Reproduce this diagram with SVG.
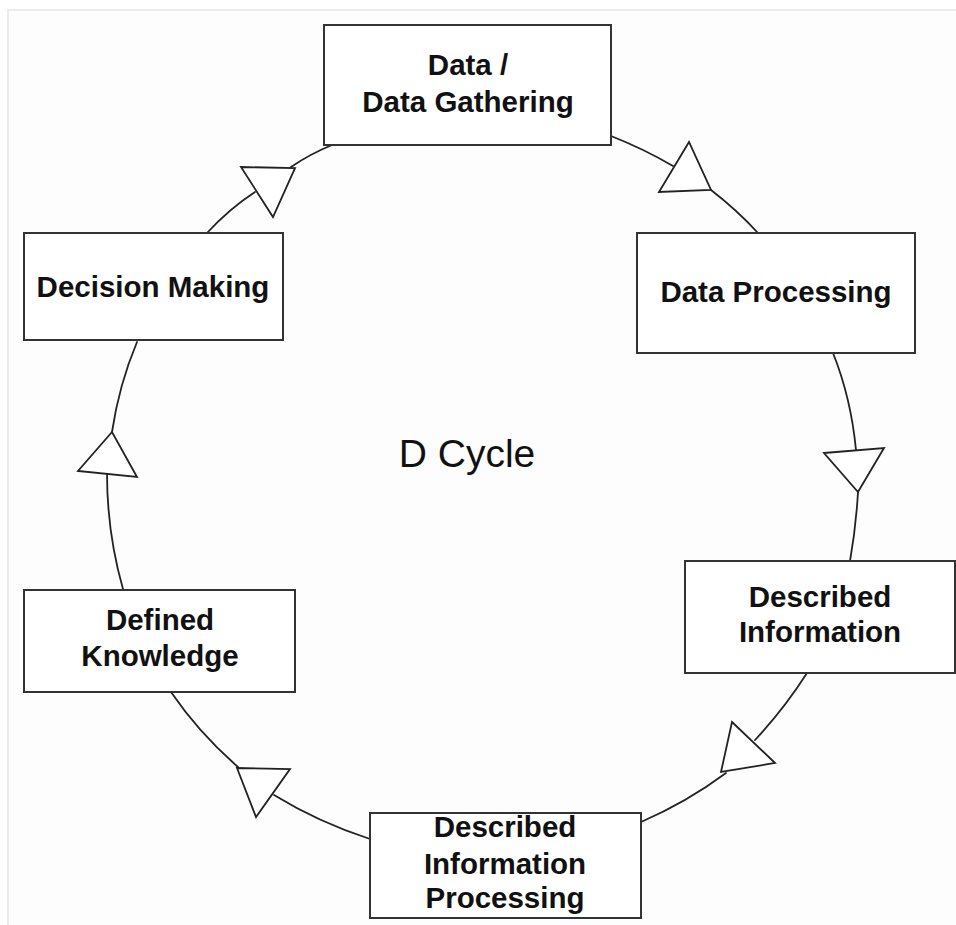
<svg xmlns="http://www.w3.org/2000/svg" width="956" height="925" viewBox="0 0 956 925">
  <style>
    .box { fill: #ffffff; stroke: #333333; stroke-width: 2; }
    .label { font-family: "Liberation Sans", Arial, Helvetica, sans-serif; font-weight: bold; font-size: 29.5px; fill: #111111; text-anchor: middle; }
    .title { font-family: "Liberation Sans", Arial, Helvetica, sans-serif; font-size: 39px; fill: #111111; text-anchor: middle; }
    .link { fill: none; stroke: #222222; stroke-width: 1.8; stroke-linecap: round; }
    .head { fill: #ffffff; stroke: #222222; stroke-width: 1.8; stroke-linejoin: miter; }
  </style>

  <!-- page background and faint frame -->
  <rect x="0" y="0" width="956" height="925" fill="#ffffff"/>
  <rect x="8" y="10" width="960" height="930" fill="#fdfdfd" stroke="#ebebeb" stroke-width="2"/>

  <!-- cycle connectors with hollow triangle heads -->
  <g id="connectors">
    <path class="link" d="M332,145 Q310,154 291,167"/>
    <path class="link" d="M255,192 Q229,209 207,233"/>
    <path class="link" d="M611,136 Q644,149 673,166"/>
    <path class="link" d="M711,190 Q737,210 758,233"/>
    <path class="link" d="M833,353 Q851,398 856,450"/>
    <path class="link" d="M858,492 Q856,527 850,561"/>
    <path class="link" d="M807,673 Q784,709 755,740"/>
    <path class="link" d="M726,773 Q687,802 641,822"/>
    <path class="link" d="M370,839 Q318,822 274,795"/>
    <path class="link" d="M238,767 Q199,733 171,692"/>
    <path class="link" d="M123,589 Q107,533 107,473"/>
    <path class="link" d="M112,432 Q119,385 137,342"/>

    <polygon class="head" points="241,167 295,168 273,217"/>
    <polygon class="head" points="689,142 659,192 711,190"/>
    <polygon class="head" points="824,453 884,448 858,492"/>
    <polygon class="head" points="732,722 775,763 721,772"/>
    <polygon class="head" points="237,768 290,769 256,817"/>
    <polygon class="head" points="112,432 78,471 137,477"/>
  </g>

  <g id="data-gathering">
    <rect class="box" x="324" y="25" width="287" height="120"/>
    <text class="label" x="468" y="75">Data /</text>
    <text class="label" x="468" y="112">Data Gathering</text>
  </g>

  <g id="data-processing">
    <rect class="box" x="637" y="233" width="278" height="120"/>
    <text class="label" x="776" y="302">Data Processing</text>
  </g>

  <g id="described-information">
    <rect class="box" x="685" y="561" width="270" height="112"/>
    <text class="label" x="820" y="607">Described</text>
    <text class="label" x="820" y="642">Information</text>
  </g>

  <g id="described-information-processing">
    <rect class="box" x="370" y="813" width="271" height="105"/>
    <text class="label" x="505" y="837">Described</text>
    <text class="label" x="505" y="874">Information</text>
    <text class="label" x="505" y="908">Processing</text>
  </g>

  <g id="defined-knowledge">
    <rect class="box" x="24" y="590" width="271" height="102"/>
    <text class="label" x="160" y="630">Defined</text>
    <text class="label" x="160" y="666">Knowledge</text>
  </g>

  <g id="decision-making">
    <rect class="box" x="24" y="233" width="259" height="107"/>
    <text class="label" x="153" y="297">Decision Making</text>
  </g>

  <text class="title" x="467" y="467">D Cycle</text>
</svg>
